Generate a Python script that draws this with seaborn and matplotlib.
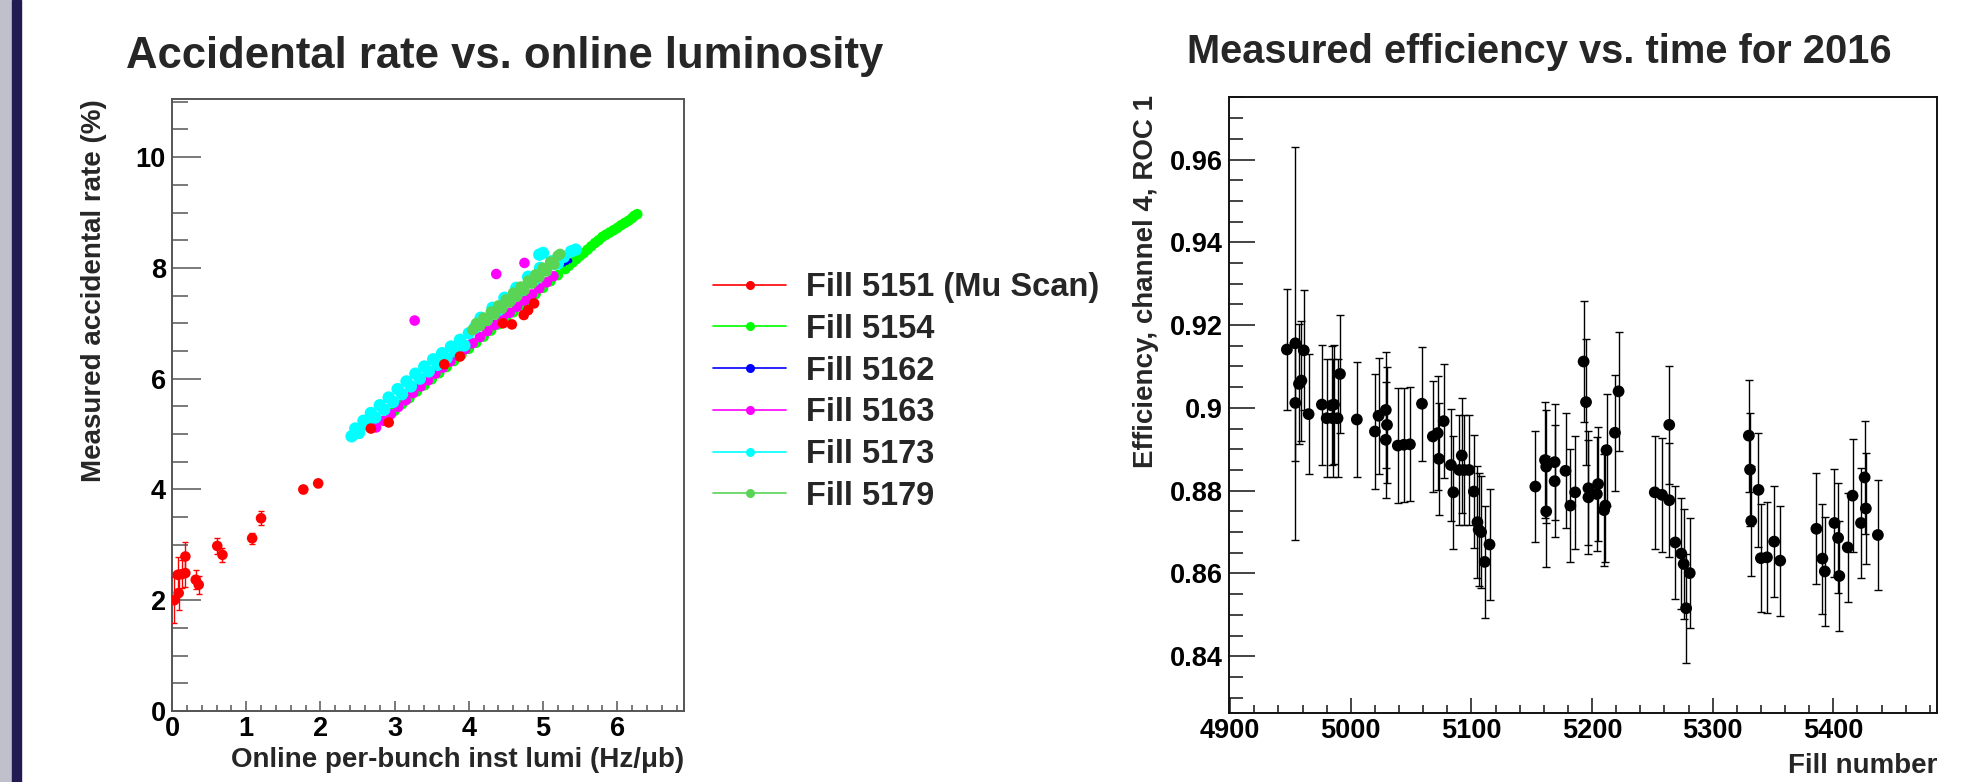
import numpy as np
import pandas as pd
import matplotlib
matplotlib.use('Agg')
import matplotlib.pyplot as plt
from matplotlib.ticker import MultipleLocator, FuncFormatter
from matplotlib.lines import Line2D
from matplotlib.patches import Rectangle
import seaborn as sns

# ---- left panel: accidental rate vs online lumi ----
fill_labels = ['Fill 5151 (Mu Scan)', 'Fill 5154', 'Fill 5162', 'Fill 5163', 'Fill 5173', 'Fill 5179']
fill_colors = ['#ff0000', '#00ff00', '#0000ff', '#ff00ff', '#00ffff', '#59d454']

# Fill 5151 (mu scan), with errors
f5151_x = [0.03, 0.09, 0.08, 0.13, 0.18, 0.18, 0.32, 0.36, 0.61, 0.68, 1.08, 1.20, 1.77, 1.97,
           2.68, 2.92, 3.67, 3.88, 4.46, 4.58, 4.74, 4.80, 4.88]
f5151_y = [2.00, 2.13, 2.46, 2.47, 2.79, 2.49, 2.37, 2.28, 2.98, 2.82, 3.12, 3.48, 4.00, 4.11,
           5.10, 5.21, 6.26, 6.40, 7.00, 6.98, 7.15, 7.24, 7.36]
f5151_err = [0.42, 0.31, 0.32, 0.25, 0.26, 0.25, 0.17, 0.16, 0.15, 0.13, 0.10, 0.13, 0.07, 0.06,
             0.05, 0.05, 0.05, 0.05, 0.05, 0.05, 0.05, 0.05, 0.05]

f5154_x = [3.00, 3.10, 3.20, 3.30, 3.40, 3.50, 3.60, 3.70, 3.80, 3.90, 4.00, 4.10, 4.20, 4.30,
           4.40, 4.50, 4.60, 4.70, 4.80, 4.90, 5.00, 5.10, 5.20, 5.30, 5.40, 5.50, 5.60, 5.70,
           5.80, 5.90, 6.00, 6.10, 6.20, 6.27, 5.35, 5.45, 5.55, 5.65, 5.75, 5.85, 5.95, 6.05,
           6.15, 6.23]
f5154_y = [5.42, 5.54, 5.65, 5.77, 5.88, 5.99, 6.10, 6.21, 6.32, 6.43, 6.54, 6.65, 6.76, 6.87,
           6.98, 7.09, 7.20, 7.31, 7.42, 7.53, 7.64, 7.76, 7.87, 7.98, 8.10, 8.22, 8.33, 8.45,
           8.56, 8.64, 8.72, 8.81, 8.90, 8.97, 8.04, 8.16, 8.27, 8.39, 8.50, 8.60, 8.68, 8.77,
           8.85, 8.94]

f5162_x = [5.28, 5.32, 5.36]
f5162_y = [8.07, 8.10, 8.13]

f5163_x = [2.75, 2.85, 2.95, 3.05, 3.15, 3.25, 3.35, 3.45, 3.55, 3.65, 3.75, 3.85, 3.95, 4.05,
           4.15, 4.25, 4.35, 4.45, 4.55, 4.65, 4.75, 4.85, 4.95, 5.05, 5.14, 3.27, 4.37, 4.75]
f5163_y = [5.12, 5.24, 5.36, 5.49, 5.61, 5.74, 5.86, 5.97, 6.09, 6.20, 6.31, 6.42, 6.53, 6.64,
           6.75, 6.86, 6.97, 7.08, 7.19, 7.30, 7.41, 7.52, 7.63, 7.74, 7.85, 7.05, 7.89, 8.09]

f5173_x = [2.42, 2.47, 2.52, 2.58, 2.63, 2.68, 2.74, 2.80, 2.86, 2.92, 2.98, 3.04, 3.10, 3.16,
           3.22, 3.28, 3.34, 3.40, 3.46, 3.52, 3.58, 3.64, 3.70, 3.76, 3.82, 3.88, 3.94, 4.00,
           4.08, 4.16, 4.24, 4.32, 4.40, 4.48, 4.56, 4.64, 4.72, 4.80, 4.88, 4.96, 5.04, 5.12,
           5.20, 5.28, 4.95, 5.00, 5.38, 5.44]
f5173_y = [4.96, 5.10, 5.02, 5.24, 5.16, 5.38, 5.30, 5.52, 5.44, 5.66, 5.58, 5.81, 5.72, 5.95,
           5.86, 6.09, 6.00, 6.22, 6.13, 6.35, 6.25, 6.46, 6.37, 6.58, 6.49, 6.70, 6.60, 6.82,
           6.92, 7.10, 7.06, 7.28, 7.24, 7.46, 7.42, 7.64, 7.60, 7.84, 7.78, 8.00, 7.96, 8.12,
           8.08, 8.20, 8.24, 8.27, 8.30, 8.33]

f5179_x = [4.05, 4.10, 4.15, 4.20, 4.25, 4.30, 4.35, 4.40, 4.45, 4.50, 4.55, 4.60, 4.65, 4.70,
           4.75, 4.80, 4.85, 4.90, 4.95, 5.00, 5.05, 5.10, 5.15, 5.20, 5.23]
f5179_y = [6.88, 7.00, 6.95, 7.10, 7.05, 7.21, 7.16, 7.32, 7.27, 7.43, 7.38, 7.55, 7.49, 7.66,
           7.60, 7.77, 7.72, 7.88, 7.83, 8.00, 7.94, 8.11, 8.06, 8.22, 8.25]

# ---- right panel: efficiency vs fill number ----
fill_number = [4947, 4954, 4954, 4957, 4959, 4961, 4965, 4976, 4980, 4984, 4985, 4986, 4989, 4991,
               5005, 5020, 5023, 5029, 5030, 5029, 5039, 5044, 5049, 5059, 5068, 5072, 5073, 5077,
               5083, 5085, 5092, 5090, 5094, 5098, 5102, 5105, 5106, 5108, 5111, 5115,
               5153, 5161, 5162, 5162, 5169, 5169, 5178, 5182, 5186, 5193, 5195, 5197, 5197,
               5205, 5204, 5210, 5211, 5212, 5219, 5222,
               5252, 5258, 5264, 5264, 5269, 5274, 5276, 5278, 5281,
               5330, 5331, 5332, 5338, 5340, 5345, 5351, 5356,
               5386, 5391, 5393, 5401, 5404, 5405, 5412, 5416, 5423, 5426, 5427, 5437]
efficiency = [0.9141, 0.9012, 0.9156, 0.9058, 0.9066, 0.9139, 0.8985, 0.9008, 0.8975, 0.9006,
              0.8975, 0.9008, 0.8975, 0.9082, 0.8972, 0.8943, 0.8981, 0.8995, 0.8959, 0.8923,
              0.8909, 0.8911, 0.8912, 0.9010, 0.8931, 0.8939, 0.8877, 0.8968, 0.8862, 0.8796,
              0.8885, 0.8850, 0.8850, 0.8850, 0.8798, 0.8724, 0.8706, 0.8700, 0.8628, 0.8670,
              0.8810, 0.8874, 0.8858, 0.8750, 0.8869, 0.8823, 0.8848, 0.8764, 0.8796, 0.9112,
              0.9014, 0.8806, 0.8784, 0.8816, 0.8792, 0.8753, 0.8764, 0.8898, 0.8940, 0.9040,
              0.8796, 0.8790, 0.8959, 0.8777, 0.8675, 0.8648, 0.8623, 0.8516, 0.8601,
              0.8933, 0.8851, 0.8727, 0.8802, 0.8637, 0.8639, 0.8677, 0.8631,
              0.8708, 0.8636, 0.8605, 0.8722, 0.8686, 0.8594, 0.8663, 0.8788, 0.8722, 0.8832,
              0.8757, 0.8693]
eff_err = [0.0147, 0.0140, 0.0475, 0.0145, 0.0145, 0.0145, 0.0145, 0.0145, 0.0143, 0.0143,
           0.0143, 0.0143, 0.0143, 0.0143, 0.0140, 0.0140, 0.0140, 0.0140, 0.0140, 0.0140,
           0.0138, 0.0138, 0.0138, 0.0138, 0.0135, 0.0138, 0.0136, 0.0138, 0.0136, 0.0137,
           0.0138, 0.0133, 0.0133, 0.0133, 0.0137, 0.0136, 0.0136, 0.0136, 0.0136, 0.0134,
           0.0135, 0.0140, 0.0137, 0.0134, 0.0140, 0.0136, 0.0139, 0.0137, 0.0137, 0.0146,
           0.0153, 0.0138, 0.0138, 0.0137, 0.0137, 0.0135, 0.0137, 0.0135, 0.0140, 0.0143,
           0.0137, 0.0137, 0.0143, 0.0137, 0.0137, 0.0134, 0.0132, 0.0132, 0.0133,
           0.0135, 0.0136, 0.0133, 0.0137, 0.0131, 0.0134, 0.0134, 0.0133,
           0.0134, 0.0133, 0.0131, 0.0131, 0.0132, 0.0132, 0.0132, 0.0137, 0.0134, 0.0137,
           0.0135, 0.0134]

sns.set_theme(style='ticks')
plt.rcParams['font.family'] = ['Liberation Sans', 'DejaVu Sans']
plt.rcParams['font.weight'] = 'bold'

W, H = 1966, 782
fig = plt.figure(figsize=(W / 100, H / 100), dpi=100)
fig.patch.set_facecolor('white')


def fx(px):
    return px / W


def fy(py):
    return 1 - py / H


# slide strip on the left edge
fig.patches.append(Rectangle((0, 0), fx(12), 1, transform=fig.transFigure, color='#c0c0cd', zorder=0))
fig.patches.append(Rectangle((fx(12), 0), fx(9), 1, transform=fig.transFigure, color='#221a52', zorder=0))

ax1 = fig.add_axes([fx(172), fy(711), (684 - 172) / W, (711 - 99) / H])
ax2 = fig.add_axes([fx(1229), fy(713), (1937 - 1229) / W, (713 - 97) / H])

# left panel, draw order matters for overlaps
series = [
    (f5154_x, f5154_y, fill_colors[1], 58),
    (f5163_x, f5163_y, fill_colors[3], 58),
    (f5162_x, f5162_y, fill_colors[2], 14),
    (f5173_x, f5173_y, fill_colors[4], 80),
    (f5179_x, f5179_y, fill_colors[5], 62),
]
for xs, ys, col, size in series:
    sns.scatterplot(x=xs, y=ys, color=col, s=size, edgecolor='none', linewidth=0, ax=ax1, legend=False, zorder=3)

ax1.errorbar(f5151_x, f5151_y, yerr=f5151_err, fmt='none', ecolor='red', elinewidth=1.0,
             capsize=2.5, capthick=1.0, zorder=4)
sns.scatterplot(x=f5151_x, y=f5151_y, color='red', s=58, edgecolor='none', linewidth=0, ax=ax1,
                legend=False, zorder=5)

ax1.set_xlim(0, 6.9)
ax1.set_ylim(0, 11.05)
ax1.xaxis.set_major_locator(MultipleLocator(1))
ax1.xaxis.set_minor_locator(MultipleLocator(0.2))
ax1.yaxis.set_major_locator(MultipleLocator(2))
ax1.yaxis.set_minor_locator(MultipleLocator(0.5))

# right panel
ax2.errorbar(fill_number, efficiency, yerr=eff_err, fmt='none', ecolor='black', elinewidth=1.0,
             capsize=2.8, capthick=1.0, zorder=3)
sns.scatterplot(x=fill_number, y=efficiency, color='black', s=72, edgecolor='none', linewidth=0,
                ax=ax2, legend=False, zorder=4)

ax2.set_xlim(4899, 5486)
ax2.set_ylim(0.8263, 0.9751)
ax2.xaxis.set_major_locator(MultipleLocator(100))
ax2.xaxis.set_minor_locator(MultipleLocator(20))
ax2.yaxis.set_major_locator(MultipleLocator(0.02))
ax2.yaxis.set_minor_locator(MultipleLocator(0.005))
ax2.yaxis.set_major_formatter(FuncFormatter(lambda v, p: '%g' % round(v, 3)))


def style_axes(ax, spine_color, ymaj, ymin, xmaj, xmin):
    ax.set_facecolor('white')
    ax.grid(False)
    ax.set_xlabel('')
    ax.set_ylabel('')
    for side in ['left', 'bottom', 'top', 'right']:
        ax.spines[side].set_visible(True)
        ax.spines[side].set_color(spine_color)
        ax.spines[side].set_linewidth(1.4)
    ax.tick_params(which='both', direction='in', top=False, right=False, color=spine_color,
                   width=1.1, labelsize=19.5, labelcolor='black')
    ax.tick_params(axis='y', which='major', length=ymaj, pad=4.5)
    ax.tick_params(axis='y', which='minor', length=ymin)
    ax.tick_params(axis='x', which='major', length=xmaj, pad=3.5)
    ax.tick_params(axis='x', which='minor', length=xmin)


style_axes(ax1, '#555555', 20.9, 11.5, 7.2, 4.5)
style_axes(ax2, '#111111', 18.7, 10.0, 10.8, 5.8)

# titles and axis labels
fig.text(fx(126), fy(68), 'Accidental rate vs. online luminosity', ha='left', va='baseline',
         fontsize=31.4, weight='bold')
fig.text(fx(1187), fy(63), 'Measured efficiency vs. time for 2016', ha='left', va='baseline',
         fontsize=28.7, weight='bold')
fig.text(fx(94), fy(99), 'Measured accidental rate (%)', rotation=90, ha='center', va='top',
         fontsize=20, weight='bold')
fig.text(fx(684), fy(767), 'Online per-bunch inst lumi (Hz/\u03bcb)', ha='right', va='baseline',
         fontsize=20, weight='bold')
fig.text(fx(1146), fy(95), 'Efficiency, channel 4, ROC 1', rotation=90, ha='center', va='top',
         fontsize=20, weight='bold')
fig.text(fx(1937), fy(773), 'Fill number', ha='right', va='baseline', fontsize=20, weight='bold')

# legend for the left panel, placed to its right
handles = [Line2D([0], [0], color=c, lw=1.2, marker='o', markersize=6.5, markeredgewidth=0)
           for c in fill_colors]
fig.legend(handles, fill_labels, loc='upper left', bbox_to_anchor=(fx(713), fy(272)),
           frameon=False, fontsize=23.5, handlelength=2.25, handletextpad=0.6,
           labelspacing=0.33, borderpad=0, borderaxespad=0)

fig.savefig('out.png', dpi=100, facecolor='white')
